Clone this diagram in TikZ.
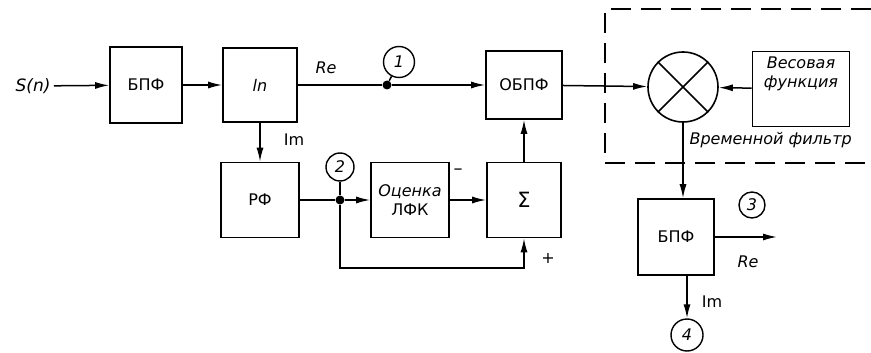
\documentclass[tikz,border=0pt]{standalone}
\usepackage{fontspec}
\setmainfont{DejaVu Sans}
\usepackage{tikz}
\usetikzlibrary{arrows.meta, positioning, calc}
\tikzset{
  block/.style={rectangle, draw=black, fill=white, line width=1.6pt,
    minimum width=75pt, minimum height=75pt, inner sep=2pt,
    font=\fontsize{16}{19}\selectfont, align=center},
  numcirc/.style={circle, draw=black, line width=1.4pt, inner sep=0pt,
    font=\fontsize{16}{16}\selectfont\itshape},
  junc/.style={circle, fill=black, inner sep=0pt, minimum size=9pt},
  arrow/.style={-{Latex[length=14pt,width=7pt]}, line width=1.5pt},
  line/.style={line width=1.5pt},
  lbl/.style={font=\fontsize{16}{18}\selectfont}
}

\begin{document}
\begin{tikzpicture}[x=1pt, y=-1pt]
  \useasboundingbox (0,0) rectangle (871,353);

  % Temporal filter frame
  \draw[line width=1.5pt, dash pattern=on 20pt off 10pt] (871,9) -- (605,9) -- (605,163) -- (871,163);
  \node[lbl, font=\fontsize{16}{18}\selectfont\itshape, anchor=west] (tflbl) at (686,140) {Временной фильтр};

  % Blocks
  \node[lbl, font=\fontsize{17}{18}\selectfont\itshape] (sig) at (33,86) {S(n)};
  \node[block, minimum width=72pt, minimum height=76pt] (fft1) at (146,85) {БПФ};
  \node[block, minimum width=74pt, minimum height=74pt] (ln) at (260,85) {\itshape ln};
  \node[block, minimum width=78pt] (rf) at (260,200) {РФ};
  \node[block, minimum width=78pt] (est) at (410,200) {\itshape Оценка\\ЛФК};
  \node[block, minimum width=74pt, font=\fontsize{21}{24}\selectfont] (sum) at (524,200) {Σ};
  \node[block, minimum width=76pt, minimum height=68pt] (ifft) at (524,85) {ОБПФ};
  \node[circle, draw=black, line width=1.6pt, minimum size=70pt, inner sep=0pt] (mult) at (683,87) {};
  \node[block, minimum width=97pt, font=\fontsize{16}{19}\selectfont\itshape] (wfun) at (801,89) {Весовая\\функция\\[14pt]};
  \node[block, minimum width=76pt, minimum height=76pt] (fft2) at (676,237) {БПФ};

  % Test points
  \node[junc] (d1) at (387,85) {};
  \node[junc] (d2) at (340,200) {};
  \node[numcirc, minimum size=31pt] (c1) at (399,62) {1};
  \node[numcirc, minimum size=28pt] (c2) at (340,167) {2};
  \node[numcirc, minimum size=26pt] (c3) at (752,205) {3};
  \node[numcirc, minimum size=32pt] (c4) at (687,335) {4};
  \coordinate (fb) at (524,268);
  \coordinate (out) at (777,237);

  % Labels
  \node[lbl, font=\fontsize{16}{18}\selectfont\itshape] (lre1) at (326,68) {Re};
  \node[lbl] (lim1) at (294,140) {Im};
  \node[lbl, font=\fontsize{18}{18}\selectfont] (lminus) at (458,172) {–};
  \node[lbl] (lplus) at (548,258) {+};
  \node[lbl, font=\fontsize{16}{18}\selectfont\itshape] (lre2) at (748,262) {Re};
  \node[lbl] (lim2) at (712,302) {Im};

  % Connections
  \draw[arrow] (sig) -- (fft1);
  \draw[arrow] (fft1) -- (ln);
  \draw[line] (ln) -- (d1);
  \draw[arrow] (d1) -- (ifft);
  \draw[line] (d1) -- (c1);
  \draw[arrow] (ln) -- (rf);
  \draw[line] (rf) -- (d2);
  \draw[arrow] (d2) -- (est);
  \draw[line] (d2) -- (c2);
  \draw[arrow] (est) -- (sum);
  \draw[arrow] (d2) |- (fb) -- (sum);
  \draw[arrow] (sum) -- (ifft);
  \draw[arrow] (ifft) -- (mult);
  \draw[arrow] (wfun) -- (mult);
  \draw[line] (mult.north west) -- (mult.south east);
  \draw[line] (mult.north east) -- (mult.south west);
  \draw[arrow] (mult) -- (mult |- fft2.north);
  \draw[arrow] (fft2) -- (out);
  \draw[arrow] (c4 |- fft2.south) -- (c4);
\end{tikzpicture}
\end{document}
